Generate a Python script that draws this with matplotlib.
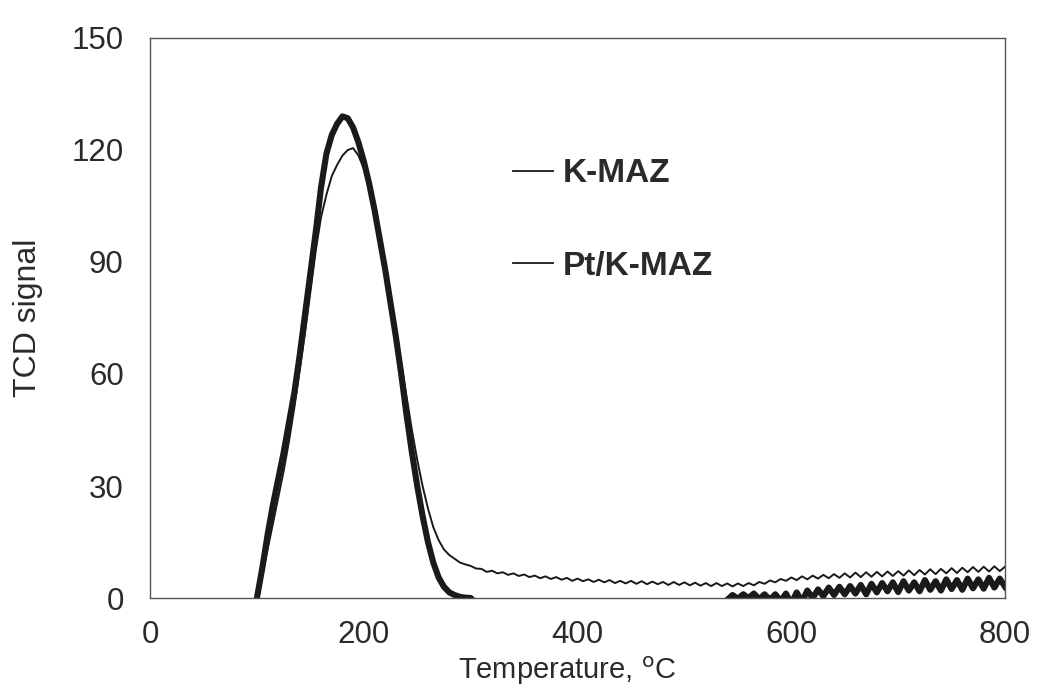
import matplotlib
matplotlib.use("Agg")
import matplotlib.pyplot as plt
from matplotlib.lines import Line2D

plt.rcParams['font.family'] = ['Liberation Sans', 'DejaVu Sans']

# ---- data ----
kmaz_T = [100, 105, 110, 115, 120, 125, 130, 135, 140, 145, 150, 155, 160, 165, 170, 175,
          180, 185, 190, 195, 200, 205, 210, 215, 220, 225, 230, 235, 240, 245, 250, 255,
          260, 265, 270, 275, 280, 285, 290, 295,
          300, 305, 310, 315, 320, 325, 330, 335, 340, 345, 350, 355, 360, 365, 370, 375,
          380, 385, 390, 395, 400, 405, 410, 415, 420, 425, 430, 435, 440, 445, 450, 455,
          460, 465, 470, 475, 480, 485, 490, 495, 500, 505, 510, 515, 520, 525, 530, 535,
          540, 545, 550, 555, 560, 565, 570, 575, 580, 585, 590, 595, 600, 605, 610, 615,
          620, 625, 630, 635, 640, 645, 650, 655, 660, 665, 670, 675, 680, 685, 690, 695,
          700, 705, 710, 715, 720, 725, 730, 735, 740, 745, 750, 755, 760, 765, 770, 775,
          780, 785, 790, 795, 800]
kmaz_S = [0, 6, 13, 20, 27, 34, 42, 51, 61, 71, 82, 93, 102, 108, 113, 116,
          118.5, 120, 120.5, 118.5, 115, 110, 104, 97, 89, 81, 72, 63, 54, 45, 37, 30,
          24, 19, 15.5, 13, 11.5, 10.5, 9.5, 9.0,
          8.6, 7.9, 7.8, 7.0, 7.3, 6.6, 6.9, 6.2, 6.6, 5.9, 6.3, 5.6, 6.0, 5.3, 5.8, 5.1,
          5.6, 4.9, 5.4, 4.6, 5.2, 4.5, 5.0, 4.3, 4.9, 4.2, 4.8, 4.0, 4.6, 3.9, 4.6, 3.8,
          4.5, 3.7, 4.4, 3.7, 4.3, 3.5, 4.3, 3.5, 4.2, 3.4, 4.1, 3.3, 4.0, 3.2, 4.0, 3.2,
          3.9, 3.1, 3.9, 3.2, 4.0, 3.4, 4.3, 3.8, 4.7, 4.2, 5.1, 4.6, 5.5, 4.8, 5.8, 5.0,
          6.0, 5.2, 6.2, 5.3, 6.4, 5.4, 6.6, 5.5, 6.8, 5.6, 6.9, 5.7, 7.0, 5.8, 7.1, 5.9,
          7.2, 6.0, 7.4, 6.1, 7.5, 6.3, 7.7, 6.4, 7.8, 6.6, 8.0, 6.7, 8.1, 6.9, 8.3, 7.0,
          8.4, 7.1, 8.5, 7.2, 8.4]

ptkmaz_T = [100, 105, 110, 115, 120, 125, 130, 135, 140, 145, 150, 155, 160, 165, 170, 175,
            180, 185, 190, 195, 200, 205, 210, 215, 220, 225, 230, 235, 240, 245, 250, 255,
            260, 265, 270, 275, 280, 285, 290, 295, 300, 310, 535,
            540, 545, 550, 555, 560, 565, 570, 575, 580, 585, 590, 595, 600, 605, 610, 615,
            620, 625, 630, 635, 640, 645, 650, 655, 660, 665, 670, 675, 680, 685, 690, 695,
            700, 705, 710, 715, 720, 725, 730, 735, 740, 745, 750, 755, 760, 765, 770, 775,
            780, 785, 790, 795, 800]
ptkmaz_S = [0, 8, 17, 25, 32, 39, 47, 55, 65, 76, 87, 98, 110, 119, 124, 127,
            129, 128.5, 126, 122, 117, 111, 104, 96, 88, 79, 70, 60, 49, 39, 30, 22,
            15, 9.5, 5.5, 3, 1.5, 0.8, 0.3, 0.1, 0, -3, -3,
            -0.5, 0.8, -0.2, 1.0, 0.0, 1.2, -0.3, 1.0, -0.5, 1.0, -0.8, 1.2, -1.5, 1.5, -1.0, 2.0,
            0.0, 2.3, 0.5, 2.8, 0.8, 3.0, 1.0, 3.2, 1.2, 3.5, 1.0, 3.8, 1.5, 4.0, 1.8, 4.2,
            1.6, 4.5, 2.0, 4.2, 1.8, 4.8, 2.2, 4.5, 2.0, 5.0, 2.4, 4.8, 2.2, 5.2, 2.6, 5.0,
            2.5, 5.4, 2.8, 5.2, 3.0]

series_names = ["K-MAZ", "Pt/K-MAZ"]
x_ticks = [0, 200, 400, 600, 800]
y_ticks = [0, 30, 60, 90, 120, 150]

txt = '#2a2a2a'

fig = plt.figure(figsize=(10.37, 6.88), dpi=100)
ax = fig.add_axes([0.1447, 0.1308, 0.9692 - 0.1447, 0.9448 - 0.1308])

ax.plot(kmaz_T, kmaz_S, color='#1a1a1a', lw=1.4, solid_joinstyle='round')
ax.plot(ptkmaz_T, ptkmaz_S, color='#1a1a1a', lw=4.4, solid_joinstyle='round')

ax.set_xlim(0, 800)
ax.set_ylim(0, 150)
ax.set_xticks(x_ticks)
ax.set_yticks(y_ticks)
ax.tick_params(length=0, labelsize=22.5, colors=txt)
ax.tick_params(axis='y', pad=19)
ax.tick_params(axis='x', pad=16)
for s in ax.spines.values():
    s.set_color('#555555')
    s.set_linewidth(1.0)

ax.set_xlabel("Temperature, $^{\\mathrm{o}}$C", fontsize=21, color=txt, va='top')
ax.xaxis.set_label_coords(0.4877, -0.1018)
ax.set_ylabel("TCD signal", fontsize=23, color=txt, va='center')
ax.yaxis.set_label_coords(-0.1427, 0.5)

handles = [Line2D([], [], color='#1a1a1a', lw=1.3) for _ in series_names]
leg = ax.legend(handles, series_names, loc='upper left', bbox_to_anchor=(0.4246, 0.785),
                frameon=False, handlelength=1.2, handletextpad=0.3, labelspacing=1.85,
                borderpad=0, borderaxespad=0,
                prop={'weight': 'bold', 'size': 24})
for t in leg.get_texts():
    t.set_color(txt)

fig.savefig("out.png", dpi=100, facecolor='white')
